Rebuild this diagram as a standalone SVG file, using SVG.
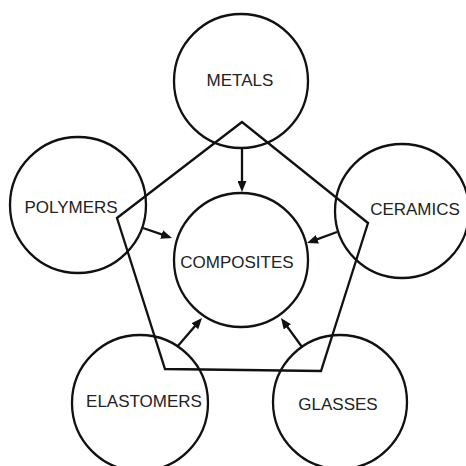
<svg xmlns="http://www.w3.org/2000/svg" width="466" height="466" viewBox="0 0 466 466">
<style>
.c{fill:none;stroke:#111;stroke-width:2.3}
.t{font-family:"Liberation Sans",Arial,sans-serif;font-size:17px;fill:#222;text-anchor:middle}
.e{fill:none;stroke:#111;stroke-width:2.3}
</style>
<defs>
<marker id="ah" markerUnits="userSpaceOnUse" markerWidth="11" markerHeight="9" refX="7" refY="4.5" orient="auto">
<path d="M0,0 L11,4.5 L0,9 z" fill="#111"/>
</marker>
</defs>
<rect width="466" height="466" fill="#fff"/>
<g id="pentagon">
<polygon class="e" points="242,122 117,218 165,369 321,371 368,223"/>
</g>
<g id="metals"><circle class="c" cx="241" cy="81" r="67"/><text class="t" x="240" y="86">METALS</text></g>
<g id="polymers"><circle class="c" cx="78" cy="205" r="68"/><text class="t" x="71" y="213">POLYMERS</text></g>
<g id="ceramics"><circle class="c" cx="402" cy="211" r="67"/><text class="t" x="415" y="215">CERAMICS</text></g>
<g id="composites"><circle class="c" cx="241" cy="260" r="67"/><text class="t" x="237" y="268">COMPOSITES</text></g>
<g id="elastomers"><circle class="c" cx="140" cy="403" r="68"/><text class="t" x="144" y="407">ELASTOMERS</text></g>
<g id="glasses"><circle class="c" cx="340" cy="402" r="67"/><text class="t" x="338" y="410">GLASSES</text></g>
<g id="connectors" class="e" marker-end="url(#ah)">
<line x1="242" y1="149" x2="242" y2="188"/>
<line x1="143" y1="228" x2="168.2" y2="236.7"/>
<line x1="337" y1="232" x2="310.8" y2="241.6"/>
<line x1="177" y1="347" x2="199.4" y2="321"/>
<line x1="302" y1="347" x2="283.3" y2="321.2"/>
</g>
</svg>
